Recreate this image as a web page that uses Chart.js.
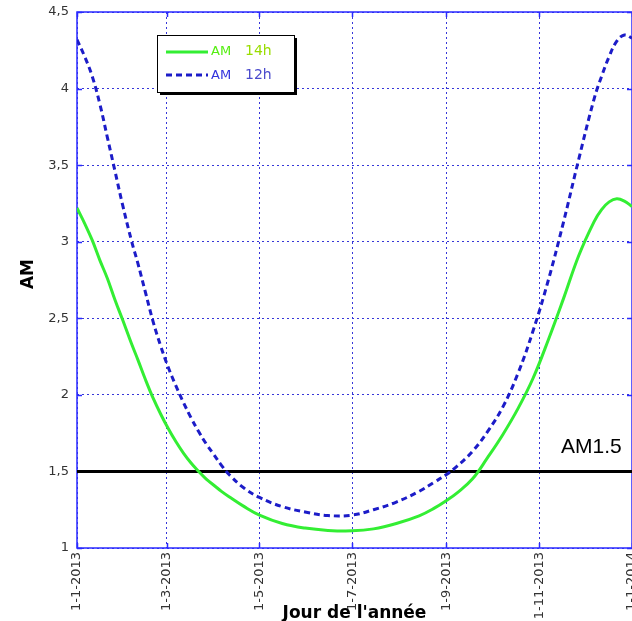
<!DOCTYPE html>
<html>
<head>
<meta charset="utf-8">
<script src="https://cdn.jsdelivr.net/npm/chart.js@4/dist/chart.umd.min.js"></script>
<style>
    html, body { margin: 0; padding: 0; background: #fff; overflow: hidden; }
    #wrap { position: relative; width: 632px; height: 621px; }
</style>
</head>
<body>
<div id="wrap"><canvas id="chart"></canvas></div>
<script>
// day of year (0 = 1 Jan 2013)
const days = [0, 5, 10, 15, 20, 25, 30, 36, 40, 45, 50, 55, 60, 65, 70, 75, 80, 85, 90, 95, 100, 110, 120, 135, 150, 165, 181,
    195, 210, 225, 235, 243, 250, 260, 270, 280, 290, 300, 310, 320, 330, 340, 345, 350, 355, 360, 365];
const am12h = [4.32, 4.21, 4.08, 3.90, 3.68, 3.46, 3.24, 3.00, 2.86, 2.67, 2.48, 2.32, 2.18, 2.06, 1.95, 1.85, 1.76, 1.68, 1.61, 1.54, 1.48, 1.39, 1.33, 1.27, 1.235, 1.212, 1.215,
    1.25, 1.30, 1.37, 1.43, 1.48, 1.535, 1.63, 1.76, 1.92, 2.14, 2.42, 2.75, 3.13, 3.54, 3.93, 4.08, 4.21, 4.31, 4.35, 4.33];
const am14h = [3.22, 3.12, 3.01, 2.88, 2.76, 2.62, 2.49, 2.33, 2.23, 2.10, 1.98, 1.875, 1.78, 1.695, 1.62, 1.555, 1.50, 1.45, 1.41, 1.37, 1.335, 1.27, 1.215, 1.16, 1.13, 1.115, 1.112,
    1.125, 1.16, 1.21, 1.26, 1.31, 1.36, 1.45, 1.59, 1.74, 1.91, 2.11, 2.36, 2.63, 2.91, 3.13, 3.21, 3.26, 3.28, 3.265, 3.23];

const tickDays = [0, 59, 120, 181, 243, 304, 365];
const tickLabels = ['1-1-2013', '1-3-2013', '1-5-2013', '1-7-2013', '1-9-2013', '1-11-2013', '1-1-2014'];
const yTicks = [1, 1.5, 2, 2.5, 3, 3.5, 4, 4.5];

const refLevel = 1.5;
const refLabel = 'AM1.5';
const xTitle = "Jour de l'année";
const yTitle = 'AM';

const blue = '#1c1cc8';
const green = '#33ee33';
const frameBlue = '#2a2aff';

const toPoints = (xs, ys) => xs.map((x, i) => ({ x: x, y: ys[i] }));

const decor = {
    id: 'decor',
    beforeDatasetsDraw(chart) {
        const { ctx, chartArea: a, scales: { x, y } } = chart;
        ctx.save();
        ctx.strokeStyle = frameBlue;
        ctx.lineWidth = 1.5;
        ctx.strokeRect(a.left, a.top, a.right - a.left, a.bottom - a.top);
        ctx.beginPath();
        tickDays.forEach(d => {
            const px = Math.round(x.getPixelForValue(d)) + 0.5;
            ctx.moveTo(px, a.top); ctx.lineTo(px, a.top + 5);
            ctx.moveTo(px, a.bottom); ctx.lineTo(px, a.bottom - 5);
        });
        yTicks.forEach(v => {
            const py = Math.round(y.getPixelForValue(v)) + 0.5;
            ctx.moveTo(a.left, py); ctx.lineTo(a.left + 5, py);
            ctx.moveTo(a.right, py); ctx.lineTo(a.right - 5, py);
        });
        ctx.stroke();
        ctx.restore();
    },
    afterDraw(chart) {
        const { ctx, chartArea: a, scales: { y } } = chart;
        ctx.save();

        // axis titles
        ctx.fillStyle = '#000';
        ctx.font = 'bold 17px "DejaVu Sans"';
        ctx.textAlign = 'center';
        ctx.textBaseline = 'alphabetic';
        ctx.fillText(xTitle, (a.left + a.right) / 2, 618);
        ctx.save();
        ctx.translate(33, 274);
        ctx.rotate(-Math.PI / 2);
        ctx.fillText(yTitle, 0, 0);
        ctx.restore();

        // reference label
        ctx.font = '21px "Liberation Sans"';
        ctx.textAlign = 'left';
        ctx.fillText(refLabel, 561, y.getPixelForValue(refLevel) - 18);

        // legend box
        const bx = 157, by = 35, bw = 137, bh = 57;
        ctx.fillStyle = '#000';
        ctx.fillRect(bx + 3, by + 3, bw, bh);
        ctx.fillStyle = '#fff';
        ctx.fillRect(bx, by, bw, bh);
        ctx.strokeStyle = '#000';
        ctx.lineWidth = 1;
        ctx.strokeRect(bx + 0.5, by + 0.5, bw, bh);

        ctx.lineWidth = 3;
        ctx.strokeStyle = green;
        ctx.beginPath(); ctx.moveTo(166, 52); ctx.lineTo(208, 52); ctx.stroke();
        ctx.strokeStyle = blue;
        ctx.setLineDash([6, 4]);
        ctx.beginPath(); ctx.moveTo(166, 75); ctx.lineTo(208, 75); ctx.stroke();
        ctx.setLineDash([]);

        ctx.textBaseline = 'middle';
        ctx.font = '13px "DejaVu Sans"';
        ctx.fillStyle = '#55ee11';
        ctx.fillText('AM', 211, 52);
        ctx.fillStyle = '#3333dd';
        ctx.fillText('AM', 211, 76);
        ctx.font = '14px "DejaVu Sans"';
        ctx.fillStyle = '#99dd00';
        ctx.fillText('14h', 245, 51);
        ctx.fillStyle = '#4a4acc';
        ctx.fillText('12h', 245, 75);
        ctx.restore();
    }
};

new Chart(document.getElementById('chart'), {
    type: 'line',
    data: {
        datasets: [
            {
                label: 'AM 14h',
                data: toPoints(days, am14h),
                borderColor: green,
                borderWidth: 3,
                pointRadius: 0,
                tension: 0.4
            },
            {
                label: 'AM 12h',
                data: toPoints(days, am12h),
                borderColor: blue,
                borderWidth: 3,
                borderDash: [6, 4],
                pointRadius: 0,
                tension: 0.4
            },
            {
                label: refLabel,
                data: toPoints([0, 365], [refLevel, refLevel]),
                borderColor: '#000',
                borderWidth: 3,
                pointRadius: 0
            }
        ]
    },
    options: {
        responsive: true,
        maintainAspectRatio: false,
        animation: false,
        layout: { padding: { top: 12, left: 0, right: 0, bottom: 0 } },
        plugins: {
            legend: { display: false },
            tooltip: { enabled: false }
        },
        scales: {
            x: {
                type: 'linear',
                min: 0,
                max: 365,
                afterBuildTicks: s => { s.ticks = tickDays.map(v => ({ value: v })); },
                afterFit: s => { s.height = 73; s.paddingLeft = 0; s.paddingRight = 0; },
                ticks: {
                    autoSkip: false,
                    minRotation: 90,
                    maxRotation: 90,
                    padding: 4,
                    color: '#333',
                    font: { family: 'DejaVu Sans', size: 13 },
                    callback: (v, i) => tickLabels[i]
                },
                grid: { color: '#3636d8', lineWidth: 1, drawTicks: false },
                border: { display: false, dash: [2, 3] }
            },
            y: {
                min: 1,
                max: 4.5,
                afterFit: s => { s.width = 77; s.paddingTop = 0; s.paddingBottom = 0; },
                ticks: {
                    stepSize: 0.5,
                    padding: 8,
                    color: '#333',
                    font: { family: 'DejaVu Sans', size: 13 },
                    callback: v => String(v).replace('.', ',')
                },
                grid: { color: '#3636d8', lineWidth: 1, drawTicks: false },
                border: { display: false, dash: [2, 3] }
            }
        }
    },
    plugins: [decor]
});
</script>
</body>
</html>
